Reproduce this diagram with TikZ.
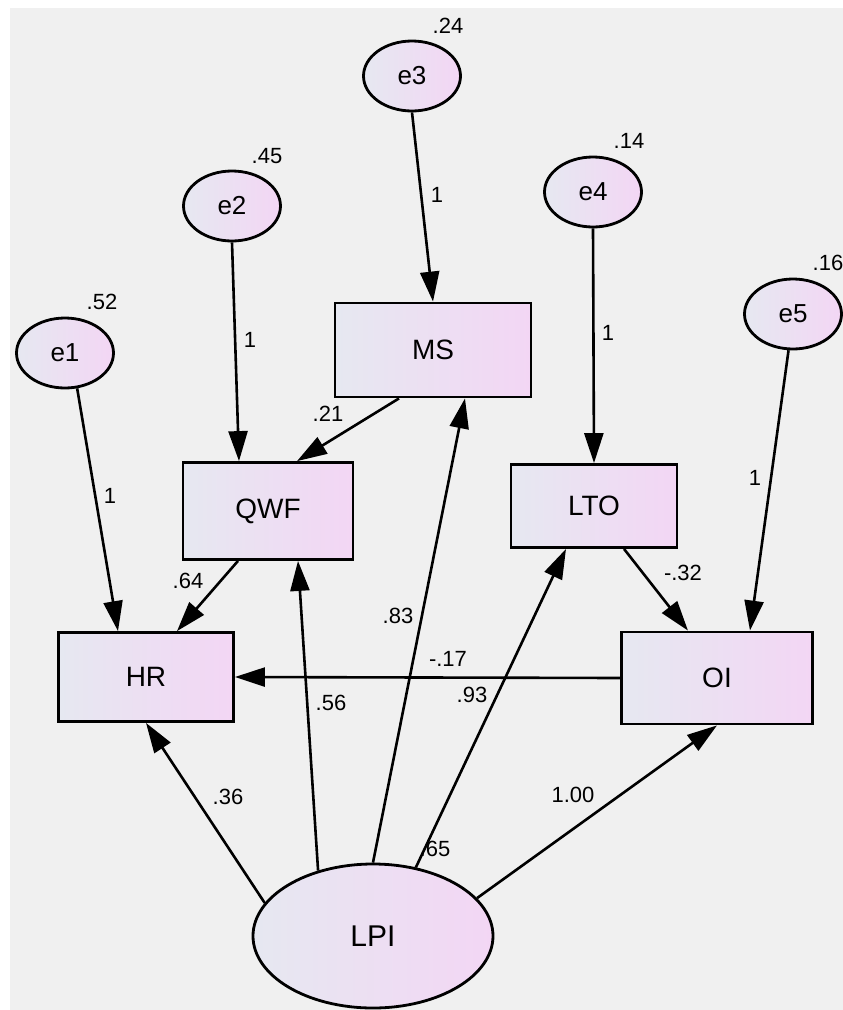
\documentclass[tikz,border=0pt]{standalone}
\usepackage{fontspec}
\setmainfont{Liberation Sans}
\usetikzlibrary{arrows.meta,calc,shapes.geometric}
\definecolor{paper}{HTML}{F0F0F0}
\definecolor{fillL}{HTML}{E6E8F1}
\definecolor{fillR}{HTML}{F3D6F4}
\tikzset{
  err/.style={ellipse,draw=black,line width=2.8pt,left color=fillL,right color=fillR,
    minimum width=97pt,minimum height=70pt,inner sep=0pt,font=\fontsize{26}{26}\selectfont},
  obs/.style={rectangle,draw=black,line width=2.8pt,left color=fillL,right color=fillR,
    inner sep=0pt,font=\fontsize{28}{28}\selectfont},
  lat/.style={ellipse,draw=black,line width=2.8pt,left color=fillL,right color=fillR,
    minimum width=240pt,minimum height=144pt,inner sep=0pt,font=\fontsize{30}{30}\selectfont},
  coef/.style={inner sep=0pt,font=\fontsize{22}{22}\selectfont},
  arr/.style={line width=2.6pt,-{Triangle[length=30pt,width=19pt]}},
}
\begin{document}
\begin{tikzpicture}[x=1pt,y=-1pt]
  % paper
  \fill[white] (0,0) rectangle (843,1010);
  \fill[paper] (10,8) rectangle (843,1010);
  \useasboundingbox (0,0) rectangle (843,1010);

  % error terms
  \node[err] (e1) at (65,353) {e1};
  \node[err] (e2) at (232,206) {e2};
  \node[err] (e3) at (412,76) {e3};
  \node[err] (e4) at (593,192) {e4};
  \node[err] (e5) at (793,314) {e5};

  % observed variables
  \node[obs,minimum width=196pt,minimum height=94pt] (MS) at (433,350) {MS};
  \node[obs,minimum width=170pt,minimum height=97pt] (QWF) at (268,511) {QWF};
  \node[obs,minimum width=166pt,minimum height=83pt] (LTO) at (594,506) {LTO};
  \node[obs,minimum width=175pt,minimum height=89pt] (HR) at (146,677) {HR};
  \node[obs,minimum width=191pt,minimum height=92pt] (OI) at (717,678) {OI};

  % latent variable
  \node[lat] (LPI) at (373,936) {LPI};

  % paths
  \draw[arr] (e1.289) -- ($(HR.north)+(-28,0)$);
  \draw[arr] (e2.south) -- ($(QWF.north)+(-29,0)$);
  \draw[arr] (e3.south) -- (MS.north);
  \draw[arr] (e4.south) -- (LTO.north);
  \draw[arr] (e5.263) -- ($(OI.north)+(33,0)$);
  \draw[arr] ($(MS.south)+(-34,0)$) -- ($(QWF.north)+(29,0)$);
  \draw[arr] ($(QWF.south)+(-30,0)$) -- ($(HR.north)+(31,0)$);
  \draw[arr] ($(LTO.south)+(30,0)$) -- ($(OI.north)+(-29,0)$);
  \draw[arr] (OI.west) -- (HR.east);
  \draw[arr] (LPI.163) -- (HR.south);
  \draw[arr] (LPI.130) -- ($(QWF.south)+(30,0)$);
  \draw[arr] (LPI.north) -- ($(MS.south)+(32,0)$);
  \draw[arr] (LPI.58) -- ($(LTO.south)+(-28,0)$);
  \draw[arr] (LPI.20) -- (OI.south);

  % variances
  \node[coef] (v1) at (102,302) {.52};
  \node[coef] (v2) at (267,156) {.45};
  \node[coef] (v3) at (448,26) {.24};
  \node[coef] (v4) at (629,141) {.14};
  \node[coef] (v5) at (828,263) {.16};

  % fixed loadings
  \node[coef] (w1) at (110,496) {1};
  \node[coef] (w2) at (250,340) {1};
  \node[coef] (w3) at (437,195) {1};
  \node[coef] (w4) at (608,333) {1};
  \node[coef] (w5) at (755,478) {1};

  % path coefficients
  \node[coef] (p21) at (328,414) {.21};
  \node[coef] (p64) at (188,581) {.64};
  \node[coef] (p32) at (683,573) {-.32};
  \node[coef] (p83) at (398,616) {.83};
  \node[coef] (p17) at (448,659) {-.17};
  \node[coef] (p56) at (331,703) {.56};
  \node[coef] (p93) at (472,695) {.93};
  \node[coef] (p36) at (228,797) {.36};
  \node[coef] (p100) at (573,795) {1.00};
  \node[coef] (p65) at (435,849) {.65};
\end{tikzpicture}
\end{document}
